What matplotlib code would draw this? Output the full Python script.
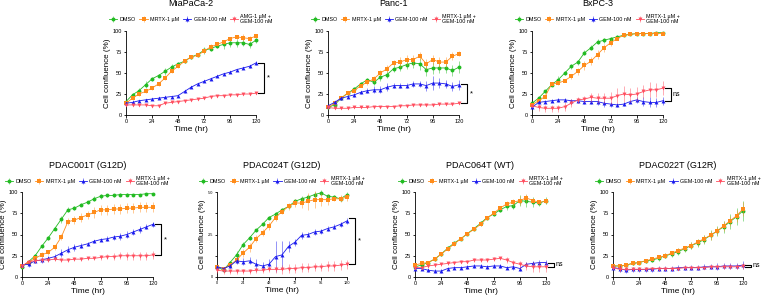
import numpy as np
import matplotlib
matplotlib.use("Agg")
import matplotlib.pyplot as plt
from matplotlib.colors import to_rgba

plt.rcParams['font.family'] = ['Liberation Sans', 'DejaVu Sans']

# time points (hr)
time_hr = np.arange(0, 121, 6)

series_labels = ["DMSO", "MRTX-1 \u00b5M", "GEM-100 nM", "MRTX-1 \u00b5M +\nGEM-100 nM"]
series_colors = ["#22bb22", "#ff8c1a", "#1a1aee", "#ff4d5e"]
series_markers = ["o", "s", "^", "v"]

titles = ["MiaPaCa-2", "Panc-1", "BxPC-3",
          "PDAC001T (G12D)", "PDAC024T (G12D)", "PDAC064T (WT)", "PDAC022T (G12R)"]

# MiaPaCa-2
mia_dmso = [16, 24, 29, 36, 43, 47, 52, 57, 61, 64, 69, 72, 77, 79, 82, 84, 86, 86, 86, 84, 89]
mia_mrtx = [14, 20, 25, 28, 32, 37, 44, 52, 58, 64, 69, 71, 76, 81, 84, 87, 91, 93, 92, 91, 94]
mia_gem = [14, 15, 17, 18, 19, 20, 21, 22, 23, 28, 33, 37, 40, 43, 46, 49, 51, 54, 56, 58, 62]
mia_combo = [12, 12, 12, 12, 11, 11, 14, 15, 16, 17, 18, 19, 20, 22, 23, 23, 24, 24, 25, 25, 26]
mia_dmso_err = [2, 2, 3, 4, 2, 2, 4, 4, 2, 2, 2, 2, 4, 3, 2, 5, 5, 5, 4, 4, 3]
mia_mrtx_err = [1, 2, 2, 2, 2, 2, 2, 2, 2, 2, 2, 2, 2, 3, 2, 2, 2, 2, 4, 3, 2]
mia_gem_err = [1, 1, 1, 1, 1, 1, 1, 1, 1, 2, 1, 1, 1, 1, 1, 1, 1, 1, 1, 2, 2]
mia_combo_err = [1] * 21

# Panc-1
panc_dmso = [9, 12, 20, 26, 31, 37, 42, 39, 45, 48, 55, 57, 60, 62, 61, 54, 56, 56, 56, 53, 57]
panc_mrtx = [9, 14, 20, 26, 29, 35, 39, 43, 50, 55, 62, 63, 66, 66, 70, 61, 66, 63, 63, 70, 73]
panc_gem = [11, 15, 20, 22, 24, 27, 29, 30, 30, 33, 35, 35, 35, 37, 37, 35, 38, 38, 37, 34, 36]
panc_combo = [9, 8, 8, 8, 9, 9, 9, 10, 10, 10, 10, 11, 11, 12, 12, 12, 12, 13, 13, 13, 14]
panc_dmso_err = [2, 2, 2, 2, 2, 2, 2, 3, 4, 4, 4, 5, 5, 6, 7, 7, 7, 6, 6, 6, 7]
panc_mrtx_err = [2, 2, 2, 2, 2, 2, 3, 4, 4, 4, 4, 6, 6, 6, 5, 6, 6, 6, 6, 5, 3]
panc_gem_err = [2, 2, 2, 2, 2, 2, 3, 4, 4, 5, 3, 3, 3, 4, 4, 6, 8, 6, 5, 5, 6]
panc_combo_err = [1] * 21

# BxPC-3
bx_dmso = [14, 20, 28, 36, 42, 50, 58, 63, 74, 80, 87, 89, 91, 93, 95, 96, 97, 97, 97, 98, 98]
bx_mrtx = [12, 17, 22, 37, 38, 41, 46, 52, 59, 64, 72, 80, 86, 91, 95, 96, 97, 97, 97, 97, 97]
bx_gem = [9, 15, 16, 17, 18, 18, 17, 17, 16, 16, 16, 14, 13, 12, 13, 16, 18, 16, 15, 15, 17]
bx_combo = [11, 9, 8, 8, 8, 10, 14, 18, 19, 21, 20, 20, 20, 23, 25, 24, 25, 28, 30, 30, 32]
bx_dmso_err = [2, 2, 2, 2, 4, 2, 3, 3, 3, 3, 3, 3, 2, 2, 1, 1, 1, 1, 1, 1, 1]
bx_mrtx_err = [2, 2, 2, 2, 2, 2, 3, 4, 5, 5, 5, 5, 4, 2, 2, 1, 1, 1, 1, 1, 1]
bx_gem_err = [2, 2, 2, 2, 2, 2, 2, 3, 3, 3, 4, 4, 3, 2, 2, 2, 4, 5, 6, 5, 5]
bx_combo_err = [2, 4, 4, 4, 4, 5, 5, 4, 4, 5, 6, 6, 7, 9, 9, 8, 8, 8, 9, 8, 8]

# PDAC001T
p001_dmso = [12, 18, 25, 36, 46, 57, 68, 79, 81, 85, 88, 92, 95, 96, 96, 97, 97, 97, 97, 98, 98]
p001_mrtx = [13, 17, 22, 26, 29, 35, 47, 65, 67, 70, 73, 76, 79, 79, 80, 80, 81, 81, 82, 82, 82]
p001_gem = [14, 15, 19, 20, 22, 24, 28, 32, 35, 37, 39, 42, 44, 45, 47, 48, 50, 53, 56, 59, 62]
p001_combo = [13, 18, 19, 20, 20, 21, 20, 20, 21, 21, 22, 22, 23, 24, 24, 25, 25, 25, 25, 25, 26]
p001_dmso_err = [2, 2, 2, 2, 2, 2, 4, 3, 2, 2, 2, 3, 3, 2, 2, 2, 2, 1, 1, 1, 1]
p001_mrtx_err = [2, 3, 3, 3, 3, 3, 4, 4, 5, 5, 5, 6, 6, 6, 6, 6, 6, 6, 6, 6, 6]
p001_gem_err = [2, 3, 3, 3, 3, 3, 5, 4, 4, 3, 2, 2, 2, 3, 3, 4, 4, 4, 4, 3, 3]
p001_combo_err = [2, 2, 2, 2, 2, 2, 2, 2, 2, 2, 2, 2, 3, 3, 4, 4, 5, 5, 5, 5, 5]

# PDAC024T
p024_dmso = [12, 8, 17, 26, 38, 46, 55, 62, 70, 74, 79, 83, 89, 92, 94, 97, 99, 95, 94, 92, 97]
p024_mrtx = [12, 10, 14, 20, 28, 35, 45, 52, 60, 70, 77, 83, 87, 87, 89, 91, 91, 91, 92, 92, 94]
p024_gem = [12, 10, 13, 19, 18, 19, 15, 13, 15, 24, 26, 36, 41, 49, 50, 53, 54, 57, 59, 62, 66]
p024_combo = [8, 7, 7, 7, 7, 7, 8, 8, 9, 9, 9, 10, 10, 11, 11, 12, 12, 13, 13, 14, 15]
p024_dmso_err = [2, 2, 2, 5, 3, 2, 2, 2, 2, 2, 2, 2, 3, 3, 3, 3, 3, 3, 3, 3, 3]
p024_mrtx_err = [2, 2, 3, 4, 5, 5, 4, 4, 5, 4, 3, 4, 5, 6, 10, 10, 8, 6, 3, 4, 4]
p024_gem_err = [2, 2, 2, 4, 4, 4, 6, 5, 6, 18, 16, 6, 4, 4, 3, 3, 3, 3, 3, 3, 4]
p024_combo_err = [3, 4, 3, 3, 3, 3, 3, 3, 3, 4, 5, 5, 5, 5, 5, 5, 5, 6, 6, 6, 5]

# PDAC064T
p064_dmso = [12, 14, 17, 21, 27, 34, 40, 45, 51, 57, 63, 70, 74, 79, 83, 84, 90, 89, 88, 87, 90]
p064_mrtx = [14, 16, 17, 21, 27, 33, 39, 45, 51, 56, 62, 69, 75, 81, 86, 88, 90, 93, 90, 88, 89]
p064_gem = [10, 10, 8, 7, 7, 10, 11, 11, 12, 13, 13, 12, 13, 13, 11, 12, 10, 15, 16, 17, 17]
p064_combo = [11, 11, 13, 14, 15, 16, 17, 18, 18, 20, 20, 20, 21, 22, 20, 17, 15, 13, 12, 12, 12]
p064_dmso_err = [2, 2, 2, 2, 2, 2, 2, 2, 2, 2, 3, 2, 2, 2, 4, 4, 6, 7, 6, 4, 4]
p064_mrtx_err = [2, 2, 2, 2, 2, 2, 2, 2, 2, 2, 2, 2, 2, 2, 3, 4, 5, 5, 3, 3, 3]
p064_gem_err = [2, 2, 2, 2, 2, 2, 2, 2, 2, 2, 2, 2, 2, 2, 2, 4, 3, 3, 3, 3, 3]
p064_combo_err = [2, 2, 2, 2, 2, 2, 2, 2, 2, 2, 2, 2, 2, 2, 3, 3, 4, 5, 6, 6, 6]

# PDAC022T
p022_dmso = [13, 13, 14, 16, 17, 19, 20, 22, 25, 27, 30, 33, 37, 40, 44, 49, 54, 59, 65, 71, 78]
p022_mrtx = [13, 13, 14, 16, 17, 19, 21, 23, 25, 28, 31, 34, 37, 41, 45, 49, 54, 60, 66, 72, 80]
p022_gem = [11, 10, 8, 9, 9, 9, 9, 10, 10, 10, 11, 11, 11, 11, 12, 12, 12, 13, 13, 13, 14]
p022_combo = [11, 9, 9, 9, 9, 9, 10, 10, 10, 10, 10, 11, 11, 11, 11, 12, 12, 12, 12, 12, 13]
p022_dmso_err = [2, 2, 2, 2, 2, 2, 2, 3, 3, 3, 4, 4, 4, 5, 5, 6, 6, 7, 9, 10, 12]
p022_mrtx_err = [2, 2, 2, 2, 2, 2, 2, 2, 3, 3, 3, 3, 4, 4, 5, 5, 5, 6, 6, 7, 8]
p022_gem_err = [3, 4, 3, 3, 3, 3, 3, 3, 3, 3, 3, 3, 3, 3, 3, 3, 4, 4, 4, 4, 5]
p022_combo_err = [2, 3, 2, 2, 2, 2, 2, 2, 2, 2, 2, 2, 2, 2, 2, 2, 2, 3, 3, 3, 3]

# bracket (low, high) and significance text per panel
bracket_low = [26, 14, 17, 26, 15, 12, 12]
bracket_high = [62, 37, 32, 62, 69, 17, 14]
bracket_text = ["*", "*", "ns", "*", "*", "ns", "ns"]

panel_means = [
    [mia_dmso, mia_mrtx, mia_gem, mia_combo],
    [panc_dmso, panc_mrtx, panc_gem, panc_combo],
    [bx_dmso, bx_mrtx, bx_gem, bx_combo],
    [p001_dmso, p001_mrtx, p001_gem, p001_combo],
    [p024_dmso, p024_mrtx, p024_gem, p024_combo],
    [p064_dmso, p064_mrtx, p064_gem, p064_combo],
    [p022_dmso, p022_mrtx, p022_gem, p022_combo],
]
panel_errs = [
    [mia_dmso_err, mia_mrtx_err, mia_gem_err, mia_combo_err],
    [panc_dmso_err, panc_mrtx_err, panc_gem_err, panc_combo_err],
    [bx_dmso_err, bx_mrtx_err, bx_gem_err, bx_combo_err],
    [p001_dmso_err, p001_mrtx_err, p001_gem_err, p001_combo_err],
    [p024_dmso_err, p024_mrtx_err, p024_gem_err, p024_combo_err],
    [p064_dmso_err, p064_mrtx_err, p064_gem_err, p064_combo_err],
    [p022_dmso_err, p022_mrtx_err, p022_gem_err, p022_combo_err],
]

W, H = 768, 297
fig = plt.figure(figsize=(W / 100, H / 100), dpi=100)

# axes boxes in pixels: (left, right, top, bottom)
boxes = [
    (126, 256, 31, 115), (328, 459, 31, 115), (532, 663, 31, 115),
    (22, 153, 192, 277), (217, 347, 192, 277), (415, 546, 192, 277), (613, 743, 192, 277),
]

for i, (l, r, t, b) in enumerate(boxes):
    ax = fig.add_axes([l / W, 1 - b / H, (r - l) / W, (b - t) / H])
    for k in range(4):
        label_k = series_labels[k]
        if i == 0 and k == 3:
            label_k = "AMG-1 \u00b5M +\nGEM-100 nM"
        ax.errorbar(time_hr, panel_means[i][k], yerr=panel_errs[i][k], color=series_colors[k],
                    ecolor=to_rgba(series_colors[k], 0.55), elinewidth=0.6, capsize=1.2,
                    capthick=0.6, lw=0.6, marker=series_markers[k], ms=2.8, mew=0,
                    clip_on=False, zorder=3 + k, label=label_k)
    ax.set_xlim(0, 120)
    ax.set_ylim(0, 100)
    ax.set_xticks([0, 24, 48, 72, 96, 120])
    ax.set_yticks([0, 25, 50, 75, 100])
    for s in ["top", "right"]:
        ax.spines[s].set_visible(False)
    for s in ["left", "bottom"]:
        ax.spines[s].set_linewidth(0.6)
    ax.tick_params(length=1.8, width=0.6, labelsize=4.1, pad=1.0)
    if i == 4:
        ax.set_yticklabels(["0", "", "2.5", "", "5.0"])
        ax.tick_params(labelsize=2.8)
    ax.set_xlabel("Time (hr)", fontsize=6, labelpad=1.5)
    ax.set_ylabel("Cell confluence (%)", fontsize=5.8, labelpad=1.5)

    # bracket
    lo, hi = bracket_low[i], bracket_high[i]
    xv = 127
    ax.plot([122, xv, xv, 122], [hi, hi, lo, lo], color="black", lw=0.8, clip_on=False)
    if bracket_text[i] == "*":
        ax.text(xv + 3, (lo + hi) / 2, "*", fontsize=5.5, ha="left", va="center")
    else:
        ax.text(xv + 1.5, (lo + hi) / 2, "ns", fontsize=5, ha="left", va="center")

    # title and legend
    cx = (l + r) / 2
    title_y = 4 if i < 3 else 165
    leg_y = 19 if i < 3 else 181
    fig.text(cx / W, 1 - title_y / H, titles[i], fontsize=6.5, ha="center", va="center")
    ax.legend(loc="center", bbox_to_anchor=(cx / W, 1 - leg_y / H),
              bbox_transform=fig.transFigure, ncol=4, frameon=False, fontsize=3.9,
              handlelength=1.5, handletextpad=0.45, columnspacing=0.7, borderpad=0)

fig.savefig("out.png", dpi=100)
